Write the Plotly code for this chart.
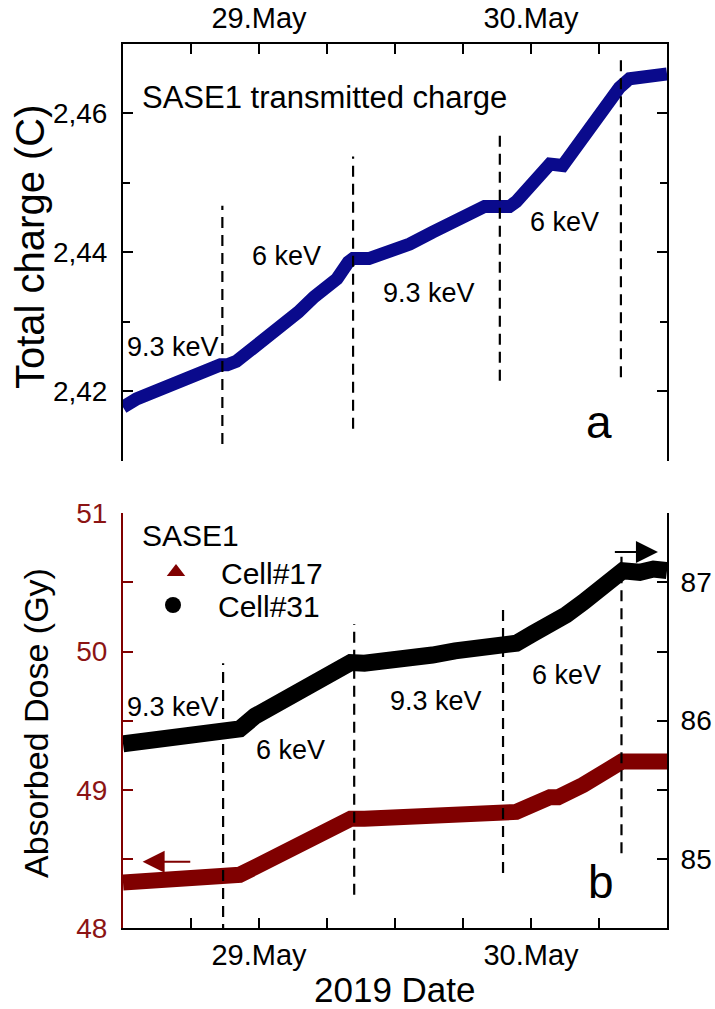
import plotly.graph_objects as go

# ---------------- data ----------------
# Panel a: SASE1 transmitted charge (C)
charge_time = ["2019-05-28 12:00", "2019-05-28 13:12", "2019-05-28 20:36", "2019-05-28 21:12",
               "2019-05-28 22:00", "2019-05-29 00:03", "2019-05-29 02:04", "2019-05-29 03:28",
               "2019-05-29 04:52", "2019-05-29 06:53", "2019-05-29 07:53", "2019-05-29 08:18",
               "2019-05-29 09:42", "2019-05-29 11:42", "2019-05-29 13:18", "2019-05-29 15:18",
               "2019-05-29 17:18", "2019-05-29 19:54", "2019-05-29 21:15", "2019-05-29 22:06",
               "2019-05-29 22:42", "2019-05-30 00:12", "2019-05-30 01:40", "2019-05-30 02:48",
               "2019-05-30 04:18", "2019-05-30 06:04", "2019-05-30 07:48", "2019-05-30 08:42",
               "2019-05-30 10:12", "2019-05-30 12:00"]
charge_value = [2.4177, 2.4189, 2.4238, 2.4238, 2.4243, 2.4268, 2.4295, 2.4314, 2.4336, 2.4362,
                2.4386, 2.4391, 2.4391, 2.4403, 2.4412, 2.4429, 2.4446, 2.4466, 2.4466, 2.4466,
                2.4473, 2.4503, 2.4527, 2.4525, 2.4561, 2.4599, 2.4637, 2.4650, 2.4652, 2.4657]

# Panel b: Cell#31 absorbed dose (right axis, Gy)
cell31_time = ["2019-05-28 12:00", "2019-05-28 14:56", "2019-05-28 17:54", "2019-05-28 20:50",
               "2019-05-28 22:18", "2019-05-28 23:39", "2019-05-29 01:16", "2019-05-29 03:16",
               "2019-05-29 05:16", "2019-05-29 06:53", "2019-05-29 08:05", "2019-05-29 09:18",
               "2019-05-29 11:18", "2019-05-29 13:18", "2019-05-29 15:18", "2019-05-29 17:18",
               "2019-05-29 19:18", "2019-05-29 21:15", "2019-05-29 22:42", "2019-05-30 00:12",
               "2019-05-30 01:40", "2019-05-30 02:24", "2019-05-30 03:06", "2019-05-30 04:36",
               "2019-05-30 06:04", "2019-05-30 07:15", "2019-05-30 08:06", "2019-05-30 09:36",
               "2019-05-30 10:48", "2019-05-30 12:00"]
cell31_dose = [85.832, 85.868, 85.897, 85.920, 85.940, 86.033, 86.106, 86.203, 86.288, 86.361,
               86.420, 86.415, 86.425, 86.445, 86.475, 86.505, 86.530, 86.524, 86.560, 86.632,
               86.700, 86.700, 86.765, 86.856, 86.953, 87.061, 87.085, 87.073, 87.097, 87.085]

# Panel b: Cell#17 absorbed dose (left axis, Gy)
cell17_time = ["2019-05-28 12:00", "2019-05-28 16:24", "2019-05-28 20:50", "2019-05-28 22:18",
               "2019-05-28 23:39", "2019-05-29 02:04", "2019-05-29 04:28", "2019-05-29 06:53",
               "2019-05-29 08:05", "2019-05-29 09:18", "2019-05-29 13:18", "2019-05-29 17:18",
               "2019-05-29 21:15", "2019-05-29 22:42", "2019-05-30 01:40", "2019-05-30 02:24",
               "2019-05-30 04:36", "2019-05-30 06:04", "2019-05-30 07:30", "2019-05-30 08:00",
               "2019-05-30 12:00"]
cell17_dose = [48.329, 48.350, 48.370, 48.385, 48.440, 48.535, 48.633, 48.730, 48.790, 48.790,
               48.800, 48.815, 48.830, 48.840, 48.946, 48.946, 49.035, 49.100, 49.187, 49.204,
               49.204]

# energy change markers (dashed lines)
switch_time_a = ["2019-05-28 20:46", "2019-05-29 08:18", "2019-05-29 21:15", "2019-05-30 07:56"]
switch_top_a = [2.4467, 2.4538, 2.4569, 2.4683]
switch_bot_a = [2.4124, 2.4146, 2.4215, 2.4220]
switch_time_b = ["2019-05-28 20:50", "2019-05-29 08:24", "2019-05-29 21:32", "2019-05-30 07:59"]
switch_top_b = [49.915, 50.20, 50.35, 50.686]
switch_bot_b = [47.95, 48.24, 48.397, 48.54]

# axes
x_range = ["2019-05-28 12:00", "2019-05-30 12:00"]
x_tickvals = ["2019-05-28 18:00", "2019-05-29 00:00", "2019-05-29 06:00", "2019-05-29 12:00",
              "2019-05-29 18:00", "2019-05-30 00:00", "2019-05-30 06:00"]
x_ticktext = ["", "29.May", "", "", "", "30.May", ""]
charge_tickvals = [2.42, 2.44, 2.46]
charge_ticktext = ["2,42", "2,44", "2,46"]
charge_minor = [2.41, 2.43, 2.45, 2.47]
dose_left_tickvals = [48, 48.5, 49, 49.5, 50, 50.5, 51]
dose_left_ticktext = ["48", "", "49", "", "50", "", "51"]
dose_right_tickvals = [84.5, 85, 85.5, 86, 86.5, 87, 87.5]
dose_right_ticktext = ["", "85", "", "86", "", "87", ""]

# ---------------- styling ----------------
W, H = 715, 1009
ML, MR, MT, MB = 123, 48, 44, 81
PW, PH = W - ML - MR, H - MT - MB


def px(xp):
    return (xp - ML) / PW


def py(yp):
    return (H - MB - yp) / PH


FONT = "Liberation Sans, Arial, sans-serif"
NAVY = "#0a0a8c"
MAROON = "#800000"
MAROON_TXT = "#8b1414"
DASH = "11px,7px"
TICKSIZE = 28

fig = go.Figure()

# panel a
fig.add_trace(go.Scatter(x=charge_time, y=charge_value, mode="lines",
                         line=dict(color=NAVY, width=13), showlegend=False,
                         xaxis="x", yaxis="y"))
for t, y0, y1 in zip(switch_time_a, switch_bot_a, switch_top_a):
    fig.add_trace(go.Scatter(x=[t, t], y=[y0, y1], mode="lines",
                             line=dict(color="black", width=2.2, dash=DASH),
                             showlegend=False, xaxis="x", yaxis="y"))

# panel b
fig.add_trace(go.Scatter(x=cell17_time, y=cell17_dose, mode="lines",
                         line=dict(color=MAROON, width=16), showlegend=False,
                         xaxis="x2", yaxis="y2"))
fig.add_trace(go.Scatter(x=cell31_time, y=cell31_dose, mode="lines",
                         line=dict(color="black", width=17), showlegend=False,
                         xaxis="x2", yaxis="y3"))
for t, y0, y1 in zip(switch_time_b, switch_bot_b, switch_top_b):
    fig.add_trace(go.Scatter(x=[t, t], y=[y0, y1], mode="lines",
                             line=dict(color="black", width=2.2, dash=DASH),
                             showlegend=False, xaxis="x2", yaxis="y2"))

# legend entries
NB = "\u00a0"
fig.add_trace(go.Scatter(x=[None], y=[None], mode="markers", name=NB * 3 + "Cell#17",
                         marker=dict(symbol="triangle-up", size=16, color=MAROON),
                         xaxis="x2", yaxis="y2", legend="legend"))
fig.add_trace(go.Scatter(x=[None], y=[None], mode="markers", name=NB * 3 + "Cell#31",
                         marker=dict(symbol="circle", size=16, color="black"),
                         xaxis="x2", yaxis="y2", legend="legend2"))


def axis(**kw):
    d = dict(showline=True, linewidth=2, ticks="inside", ticklen=10, tickwidth=2,
             showgrid=False, zeroline=False, automargin=False,
             tickfont=dict(size=TICKSIZE, family=FONT, color="black"))
    d.update(kw)
    return d


XFONT = dict(size=29, family=FONT, color="black")

fig.update_layout(
    width=W, height=H,
    margin=dict(l=ML, r=MR, t=MT, b=MB, autoexpand=False),
    paper_bgcolor="white", plot_bgcolor="white",
    font=dict(family=FONT, color="black"),
    xaxis=axis(domain=[0, 1], anchor="y", side="top", type="date",
               range=x_range, tickvals=x_tickvals, ticktext=x_ticktext,
               linecolor="black", tickcolor="black", ticklabelstandoff=2,
               tickfont=XFONT),
    yaxis=axis(domain=[py(460.7), 1], anchor="x", range=[2.41, 2.47],
               tickvals=charge_tickvals, ticktext=charge_ticktext, mirror="ticks",
               linecolor="black", tickcolor="black", ticklabelstandoff=8,
               minor=dict(tickvals=charge_minor, ticks="inside", ticklen=7, tickwidth=2,
                          tickcolor="black")),
    xaxis2=axis(domain=[0, 1], anchor="y2", side="bottom", type="date",
                range=x_range, tickvals=x_tickvals, ticktext=x_ticktext,
                linecolor="black", tickcolor="black", ticklabelstandoff=0,
                tickfont=XFONT),
    yaxis2=axis(domain=[0, py(513.3)], anchor="x2", range=[48, 51],
                tickvals=dose_left_tickvals, ticktext=dose_left_ticktext,
                linecolor=MAROON, tickcolor=MAROON, ticklabelstandoff=8,
                tickfont=dict(size=TICKSIZE, family=FONT, color=MAROON_TXT)),
    yaxis3=axis(overlaying="y2", anchor="x2", side="right",
                range=[84.5, 87.5], tickvals=dose_right_tickvals,
                ticktext=dose_right_ticktext, linecolor="black", tickcolor="black",
                ticklabelstandoff=6),
    legend=dict(x=px(140), y=py(507), xanchor="left", yanchor="top",
                bgcolor="rgba(0,0,0,0)", font=dict(size=30, family=FONT),
                title=dict(text="SASE1", font=dict(size=30, family=FONT)),
                indentation=16),
    legend2=dict(x=px(140), y=py(579), xanchor="left", yanchor="top",
                 bgcolor="rgba(0,0,0,0)", font=dict(size=30, family=FONT),
                 indentation=13),
)

ann = []


def label(text, xp, yp, size=27, xanchor="center", yanchor="middle", angle=0,
          color="black"):
    ann.append(dict(text=text, x=px(xp), y=py(yp), xref="paper", yref="paper",
                    xanchor=xanchor, yanchor=yanchor, showarrow=False, textangle=angle,
                    font=dict(size=size, family=FONT, color=color)))


label("SASE1 transmitted charge", 140, 97, size=31, xanchor="left")
label("9.3 keV", 173, 347)
label("6 keV", 286, 256)
label("9.3 keV", 429, 293)
label("6 keV", 564, 222)
label("a", 599, 422, size=46)
label("9.3 keV", 173, 707)
label("6 keV", 290, 750)
label("9.3 keV", 436, 701)
label("6 keV", 566, 675)
label("b", 601, 882, size=46)
label("Total charge (C)", 30, 247, size=40, angle=-90)
label("Absorbed Dose (Gy)", 36, 723, size=34, angle=-90)
label("2019 Date", 395, 1011, size=35, yanchor="bottom")

# direction arrows
ann.append(dict(x="2019-05-28 13:44", y=48.48, ax="2019-05-28 18:04", ay=48.48,
                xref="x2", yref="y2", axref="x2", ayref="y2", showarrow=True,
                arrowhead=2, arrowsize=2.2, arrowwidth=2, arrowcolor=MAROON, text=""))
ann.append(dict(x="2019-05-30 11:12", y=50.72, ax="2019-05-30 07:16", ay=50.72,
                xref="x2", yref="y2", axref="x2", ayref="y2", showarrow=True,
                arrowhead=2, arrowsize=2.2, arrowwidth=2, arrowcolor="black", text=""))

fig.update_layout(annotations=ann)
fig.write_html("out.html", config={"displayModeBar": False},
               post_script="document.body.style.margin='0';"
                           "document.body.style.overflow='hidden';")
